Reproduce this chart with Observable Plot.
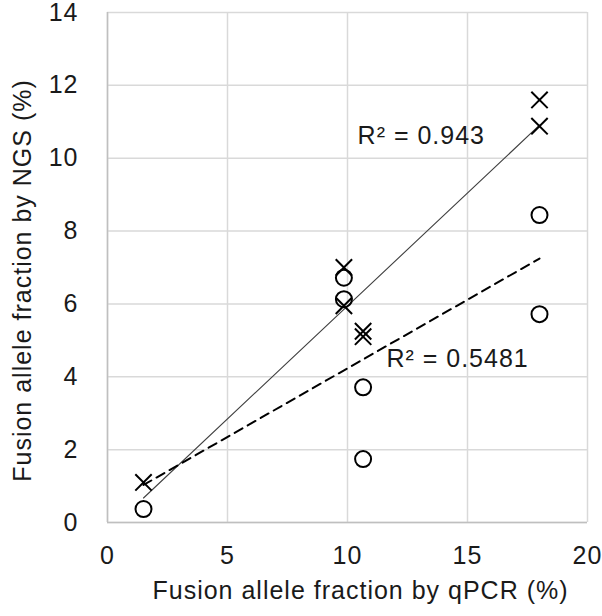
<!DOCTYPE html>
<html>
<head>
<meta charset="utf-8">
<script src="https://cdn.jsdelivr.net/npm/d3@7"></script>
<script src="https://cdn.jsdelivr.net/npm/@observablehq/plot@0.6"></script>
<style>
  html, body { margin: 0; padding: 0; background: #fff; }
  #chart svg { display: block; }
</style>
</head>
<body>
<div id="chart"></div>
<script>
// qPCR fusion allele fraction (%) for each sample
const qpcr = [1.5, 9.85, 9.85, 10.65, 10.65, 18.0, 18.0];
// NGS fusion allele fraction (%) – series drawn with "×" markers (solid trend line)
const ngsCross = [1.1, 7.0, 5.95, 5.25, 5.1, 11.6, 10.88];
// NGS fusion allele fraction (%) – series drawn with "○" markers (dashed trend line)
const ngsCircle = [0.37, 6.72, 6.13, 3.71, 1.74, 8.44, 5.72];

const xTicks = [0, 5, 10, 15, 20];
const yTicks = [0, 2, 4, 6, 8, 10, 12, 14];
const r2Labels = ["R² = 0.943", "R² = 0.5481"];
const xTitle = "Fusion allele fraction by qPCR (%)";
const yTitle = "Fusion allele fraction by NGS (%)";

const crossData = qpcr.map((x, i) => ({x, y: ngsCross[i]}));
const circleData = qpcr.map((x, i) => ({x, y: ngsCircle[i]}));

const FONT = "'Liberation Sans', Arial, sans-serif";
const txt = "#1a1a1a";

const chart = Plot.plot({
  width: 602,
  height: 616,
  marginLeft: 107,
  marginRight: 15,
  marginTop: 12,
  marginBottom: 94,
  style: {fontFamily: FONT, fontSize: "25px", color: txt, background: "#fff", letterSpacing: "1px"},
  x: {domain: [0, 20], ticks: xTicks},
  y: {domain: [0, 14], ticks: yTicks},
  marks: [
    Plot.gridX(xTicks, {stroke: "#d9d9d9", strokeOpacity: 1, strokeWidth: 1.5}),
    Plot.gridY(yTicks, {stroke: "#d9d9d9", strokeOpacity: 1, strokeWidth: 1.5}),
    Plot.ruleX([0], {stroke: "#bfbfbf", strokeWidth: 1.5}),
    Plot.ruleY([0], {stroke: "#bfbfbf", strokeWidth: 1.5}),
    Plot.axisX(xTicks, {tickSize: 0, tickPadding: 24, label: null, fontSize: 25, fill: txt}),
    Plot.axisY(yTicks, {tickSize: 0, tickPadding: 29, label: null, fontSize: 25, fill: txt}),
    Plot.linearRegressionY(crossData, {x: "x", y: "y", ci: 0, stroke: "#404040", strokeWidth: 1.1}),
    Plot.linearRegressionY(circleData, {x: "x", y: "y", ci: 0, stroke: "#000", strokeWidth: 2, strokeDasharray: "9,6"}),
    Plot.dot(circleData, {x: "x", y: "y", r: 8, symbol: "circle", stroke: "#000", strokeWidth: 2, fill: "none"}),
    Plot.dot(crossData, {x: "x", y: "y", r: 7.5, symbol: "times", stroke: "#000", strokeWidth: 2}),
    Plot.text([r2Labels[0]], {x: 10.42, y: 10.6, text: d => d, textAnchor: "start", fontSize: 25, fill: txt}),
    Plot.text([r2Labels[1]], {x: 11.62, y: 4.5, text: d => d, textAnchor: "start", fontSize: 25, fill: txt}),
    Plot.text([xTitle], {frameAnchor: "bottom", dy: 76, dx: 13, text: d => d, textAnchor: "middle", fontSize: 25, fill: txt}),
    Plot.text([yTitle], {frameAnchor: "left", dx: -85, dy: 13, rotate: -90, text: d => d, textAnchor: "middle", fontSize: 25, fill: txt})
  ]
});
document.getElementById("chart").appendChild(chart);
</script>
</body>
</html>
